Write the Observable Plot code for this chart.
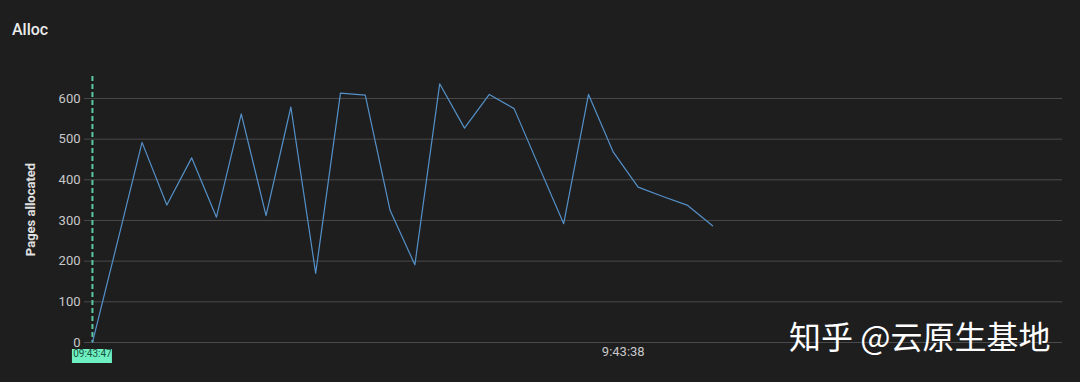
<!DOCTYPE html>
<html><head><meta charset="utf-8">
<script src="https://cdn.jsdelivr.net/npm/d3@7"></script>
<script src="https://cdn.jsdelivr.net/npm/@observablehq/plot@0.6"></script>
<style>
html,body{margin:0;padding:0;background:#1e1e1f;width:1080px;height:382px;overflow:hidden;font-family:Roboto,"Noto Sans",sans-serif}
#wrap{position:relative;width:1080px;height:382px}
#title{position:absolute;left:12px;top:22px;color:#ececec;font-size:16px;line-height:16px;font-weight:500}
#wm{position:absolute;left:789px;top:319px;color:#ffffff;font-size:32px;line-height:32px;font-family:"Noto Sans CJK SC";white-space:nowrap}
#chart{position:absolute;left:0;top:0}
</style></head>
<body>
<div id="wrap">
  <div id="chart"></div>
  <div id="title">Alloc</div>
  <div id="wm">知乎 @云原生基地</div>
</div>
<script>
// sample index (one sample per step)
const steps = d3.range(26);
const pages = [0, 245, 492, 338, 454, 308, 562, 312, 579, 170, 613, 608, 325, 191,
               636, 527, 610, 575, 433, 292, 610, 468, 382, 359, 337, 287];
const yTicks = [0, 100, 200, 300, 400, 500, 600];
const yLabel = "Pages allocated";
const cursorStep = [0];
const cursorLabel = "09:43:47";
const xTickSteps = [21.4];
const xTickLabels = ["9:43:38"];

const chart = Plot.plot({
  width: 1080,
  height: 382,
  marginLeft: 84,
  marginRight: 18,
  marginTop: 76,
  marginBottom: 40,
  style: {background: "transparent", color: "#cccccc", fontFamily: "Roboto, 'Noto Sans', sans-serif", overflow: "visible"},
  x: {domain: [-0.32, 39.11], axis: null},
  y: {domain: [0, 654], axis: null},
  marks: [
    Plot.gridY(yTicks, {stroke: "#4a4a4c", strokeOpacity: 1, strokeWidth: 1}),
    Plot.axisY(yTicks, {tickSize: 0, tickPadding: 4, fill: "#c8c8c8", fontSize: 13, label: null}),
    Plot.text([yLabel], {frameAnchor: "left", rotate: -90, dx: -54, textAnchor: "middle", text: d => d, fontWeight: "bold", fontSize: 13, fill: "#e0e0e0"}),
    Plot.ruleX(cursorStep, {x: d => d, stroke: "#5cc9a0", strokeWidth: 2, strokeDasharray: "5,3"}),
    Plot.line(steps, {x: i => i, y: i => pages[i], stroke: "#5491c8", strokeWidth: 1.2}),
    Plot.text(xTickSteps, {x: d => d, frameAnchor: "bottom", dy: 13, text: (d, i) => xTickLabels[i], fill: "#c8c8c8", fontSize: 13}),
    Plot.rect(cursorStep, {x1: d => d, x2: d => d, y1: 0, y2: 0, insetLeft: -20, insetRight: -20, insetTop: 7, insetBottom: -21, fill: "#6ff0c2"}),
    Plot.text(cursorStep, {x: d => d, frameAnchor: "bottom", dy: 14.5, text: () => cursorLabel, fill: "#17523d", fontSize: 10})
  ]
});
document.getElementById("chart").appendChild(chart);
</script>
</body></html>
